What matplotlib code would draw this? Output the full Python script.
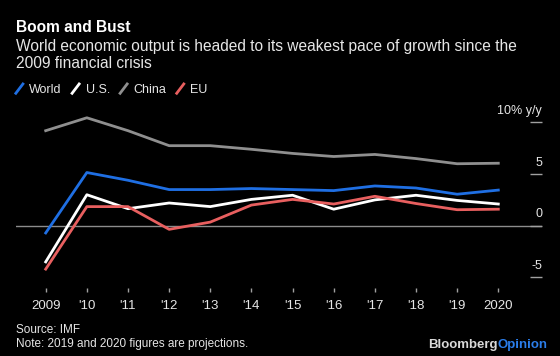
import matplotlib
matplotlib.use("Agg")
import matplotlib.pyplot as plt
from matplotlib.lines import Line2D
from matplotlib.legend_handler import HandlerBase
from matplotlib.transforms import offset_copy

plt.rcParams['font.family'] = ['Liberation Sans', 'DejaVu Sans']

years = list(range(2009, 2021))
xlabels = ['2009', "'10", "'11", "'12", "'13", "'14", "'15", "'16", "'17", "'18", "'19", '2020']

world = [-0.7, 5.15, 4.4, 3.5, 3.5, 3.6, 3.5, 3.4, 3.85, 3.65, 3.05, 3.45]
us = [-3.5, 3.0, 1.65, 2.2, 1.85, 2.55, 2.95, 1.6, 2.5, 2.95, 2.45, 2.1]
china = [9.2, 10.45, 9.2, 7.75, 7.75, 7.4, 7.0, 6.7, 6.9, 6.5, 6.0, 6.05]
eu = [-4.2, 1.85, 1.85, -0.35, 0.35, 2.0, 2.55, 2.1, 2.85, 2.15, 1.55, 1.6]

yticks = [10, 5, 0, -5]

bg = 'black'
txt = '#e6e6e6'


class SlashHandler(HandlerBase):
    # legend key drawn as a short slanted stroke
    def create_artists(self, legend, orig_handle, xdescent, ydescent,
                       width, height, fontsize, trans):
        x0 = -xdescent
        y0 = -ydescent
        line = Line2D([x0, x0 + width], [y0 - 1, y0 + height + 1],
                      color=orig_handle.get_color(), lw=2.0,
                      solid_capstyle='butt', transform=trans)
        return [line]


fig = plt.figure(figsize=(5.6, 3.56), dpi=100, facecolor=bg)
W, H = 560, 356
ax = fig.add_axes([16 / W, 1 - 287.7 / H, 526 / W, 175.6 / H], facecolor=bg)

l1, = ax.plot(years, world, color='#1f6fe3', lw=2.0, label='World')
l2, = ax.plot(years, us, color='white', lw=2.0, label='U.S.')
l3, = ax.plot(years, china, color='#8f8f8f', lw=2.0, label='China')
l4, = ax.plot(years, eu, color='#e85f5f', lw=2.0, label='EU')

ax.axhline(0, color='#8c8c8c', lw=1, zorder=0)

ax.set_xlim(2008.278, 2021.062)
ax.set_ylim(-6, 11)

for s in ax.spines.values():
    s.set_visible(False)

ax.set_xticks(years, labels=xlabels)
ax.tick_params(axis='x', direction='out', length=3, width=1, color='#a0a0a0',
               pad=6, labelsize=9.5, labelcolor=txt)

ax.set_yticks(yticks)
ax.tick_params(axis='y', left=False, right=True, direction='in', length=9,
               width=1, color='#a0a0a0', labelleft=False, labelright=False)
ytrans = offset_copy(ax.get_yaxis_transform(), fig=fig, x=0, y=8.4, units='dots')
for v in yticks:
    lab = '10% y/y' if v == 10 else str(v)
    ax.text(1.0, v, lab, transform=ytrans, ha='right', va='baseline',
            fontsize=9, color=txt)

fig.text(16 / W, 1 - 32.3 / H, 'Boom and Bust', fontsize=11.2, fontweight='bold',
         color='white', va='baseline')
# va='baseline' on multi-line text anchors the last line
fig.text(16 / W, 1 - 68.3 / H,
         'World economic output is headed to its weakest pace of growth since the\n'
         '2009 financial crisis',
         fontsize=11.2, color=txt, va='baseline', linespacing=1.18)

fig.legend(handles=[l1, l2, l3, l4], loc='upper left',
           bbox_to_anchor=(15 / W, 1 - 84 / H), ncol=4, frameon=False,
           fontsize=9, labelcolor=txt, handlelength=0.7, handletextpad=0.45,
           columnspacing=0.75, borderpad=0, borderaxespad=0,
           handler_map={Line2D: SlashHandler()})

fig.text(16 / W, 1 - 346.7 / H,
         'Source: IMF\nNote: 2019 and 2020 figures are projections.',
         fontsize=8.5, color=txt, va='baseline', linespacing=1.2)

renderer = fig.canvas.get_renderer()
t_op = fig.text(547.7 / W, 1 - 347.7 / H, 'Opinion', ha='right', va='baseline',
                fontsize=9.5, fontweight='bold', color='#2b7de9')
bb = t_op.get_window_extent(renderer)
fig.text(bb.x0 / W, 1 - 347.7 / H, 'Bloomberg', ha='right', va='baseline',
         fontsize=9.5, fontweight='bold', color='#d9d9d9')

fig.savefig('out.png', dpi=100, facecolor=bg)
